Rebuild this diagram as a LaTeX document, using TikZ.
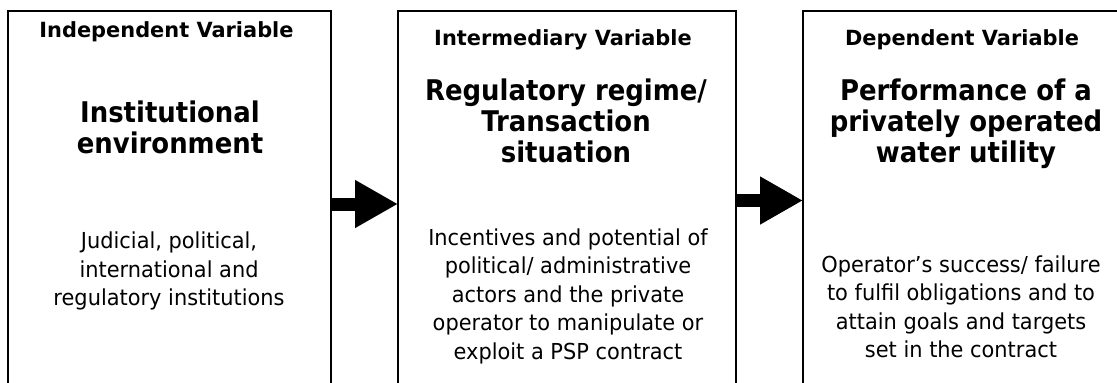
\documentclass[tikz,border=0pt]{standalone}
\usepackage{fontspec}
\setmainfont{DejaVu Sans}
\newfontfamily\ttlfont[FakeStretch=0.91]{DejaVu Sans}
\newfontfamily\bodyfont[FakeStretch=0.95]{DejaVu Sans}
\usetikzlibrary{arrows.meta}
\begin{document}
\begin{tikzpicture}[x=1pt,y=-1pt,
  box/.style={draw=black,line width=1.5pt,inner sep=0pt,outer sep=0pt,minimum height=400pt,anchor=north west},
  hdr/.style={font=\fontsize{20.9}{25}\selectfont\bfseries,align=center,inner sep=0pt,anchor=base},
  ttl/.style={font=\ttlfont\fontsize{28.5}{31}\selectfont\bfseries,align=center,inner sep=0pt},
  body/.style={font=\bodyfont\fontsize{22}{28.5}\selectfont,align=center,inner sep=0pt},
  conn/.style={line width=13pt,-{Triangle[length=43pt,width=45pt]}}]
\useasboundingbox (0,0) rectangle (1117,383);
\clip (0,0) rectangle (1117,383);
\node[box,minimum width=323pt] (b1) at (8,11) {};
\node[box,minimum width=338pt] (b2) at (398,11) {};
\node[box,minimum width=330pt] (b3) at (803,11) {};
\node[hdr] (h1) at (166.5,37) {Independent Variable};
\node[hdr] (h2) at (563,45) {Intermediary Variable};
\node[hdr] (h3) at (962,45) {Dependent Variable};
\node[ttl] (t1) at (170,127) {Institutional\\environment};
\node[ttl] (t2) at (566,120.5) {Regulatory regime/\\Transaction\\situation};
\node[ttl] (t3) at (966,123.5) {Performance of a\\privately operated\\water utility};
\node[body] (d1) at (169,271) {Judicial, political,\\international and\\regulatory institutions};
\node[body] (d2) at (568,296) {Incentives and potential of\\political/ administrative\\actors and the private\\operator to manipulate or\\exploit a PSP contract};
\node[body] (d3) at (961,307) {Operator’s success/ failure\\to fulfil obligations and to\\attain goals and targets\\set in the contract};
\coordinate (y1) at (0,204);
\coordinate (y2) at (0,200.5);
\draw[conn] (b1.east |- y1) -- (b2.west |- y1);
\draw[conn] (b2.east |- y2) -- (b3.west |- y2);
\end{tikzpicture}
\end{document}
